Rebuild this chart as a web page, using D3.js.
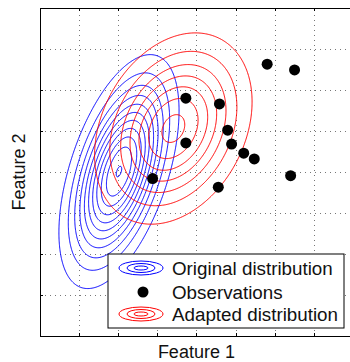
<!DOCTYPE html>
<html>
<head>
<meta charset="utf-8">
<title>Domain adaptation</title>
<script src="https://d3js.org/d3.v7.min.js"></script>
<style>
  body { margin: 0; background: #fff; }
  svg { display: block; font-family: "Liberation Sans", Arial, sans-serif; }
  .grid line { stroke: #777; stroke-dasharray: 1,4; shape-rendering: crispEdges; }
  .grid path { display: none; }
  .axis path, .axis line { stroke: #000; shape-rendering: crispEdges; }
</style>
</head>
<body>
<svg width="350" height="362"></svg>
<script>
// observations
var obsX = [5.81, 6.51, 3.73, 4.59, 4.80, 3.73, 4.90, 5.21, 5.48, 6.41, 2.88, 4.56];
var obsY = [6.63, 6.49, 5.80, 5.66, 5.02, 4.71, 4.68, 4.46, 4.32, 3.91, 3.84, 3.63];

// original distribution (mean, std devs, correlation)
var origMean = [2.02, 4.01];
var origSd = [0.70, 1.30];
var origRho = 0.52;
// contour levels as fraction of the peak density
var origLevels = [0.09, 0.18, 0.27, 0.36, 0.45, 0.54, 0.63, 0.72, 0.81, 0.90, 0.995];

// adapted distribution
var adaptMean = [3.41, 5.06];
var adaptSd = [1.01, 1.17];
var adaptRho = 0.28;
var adaptLevels = [0.137, 0.274, 0.411, 0.548, 0.685, 0.822, 0.959];

var legendLabels = ['Original distribution', 'Observations', 'Adapted distribution'];

const svg = d3.select('svg');
const margin = {left: 40, top: 8};
const width = 312.8;
const height = 328;

var chart = svg.append('g')
  .attr('transform', `translate(${margin.left},${margin.top})`);

var xScale = d3.scaleLinear().domain([0, 8]).range([0, width]);
var yScale = d3.scaleLinear().domain([0, 8]).range([height, 0]);

// dotted grid
chart.append('g').attr('class', 'grid')
  .attr('transform', `translate(0,${height})`)
  .call(d3.axisBottom(xScale).ticks(8).tickSize(-height).tickFormat(''));
chart.append('g').attr('class', 'grid')
  .call(d3.axisLeft(yScale).ticks(8).tickSize(-width).tickFormat(''));

// gaussian density on a grid, relative to its peak
var n = 400, step = 8 / n;
function densityGrid(mean, sd, rho) {
  var vals = new Float64Array(n * n);
  for (var j = 0; j < n; j++) {
    var gy = 8 - (j + 0.5) * step;
    for (var i = 0; i < n; i++) {
      var gx = (i + 0.5) * step;
      var dx = (gx - mean[0]) / sd[0], dy = (gy - mean[1]) / sd[1];
      var q = (dx * dx - 2 * rho * dx * dy + dy * dy) / (1 - rho * rho);
      vals[j * n + i] = Math.exp(-q / 2);
    }
  }
  return vals;
}

var toPixels = d3.geoPath(d3.geoTransform({
  point: function(px, py) {
    this.stream.point(xScale(px * step), yScale(8 - py * step));
  }
}));

function drawContours(mean, sd, rho, levels, color) {
  var c = d3.contours().size([n, n]).thresholds(levels)(densityGrid(mean, sd, rho));
  chart.append('g').selectAll('path')
    .data(c)
    .enter().append('path')
    .attr('d', toPixels)
    .attr('fill', 'none')
    .attr('stroke', color)
    .attr('stroke-width', 1);
}

drawContours(origMean, origSd, origRho, origLevels, '#0000ff');
drawContours(adaptMean, adaptSd, adaptRho, adaptLevels, '#ff0000');

chart.append('g').selectAll('circle')
  .data(obsX)
  .enter().append('circle')
  .attr('cx', (d) => xScale(d))
  .attr('cy', (d, i) => yScale(obsY[i]))
  .attr('r', 5.5)
  .attr('fill', '#000');

// box with inward ticks
chart.append('g').attr('class', 'axis')
  .attr('transform', `translate(0,${height})`)
  .call(d3.axisBottom(xScale).ticks(8).tickSize(-3).tickSizeOuter(0).tickFormat(''));
chart.append('g').attr('class', 'axis')
  .call(d3.axisTop(xScale).ticks(8).tickSize(-3).tickSizeOuter(0).tickFormat(''));
chart.append('g').attr('class', 'axis')
  .call(d3.axisLeft(yScale).ticks(8).tickSize(-3).tickSizeOuter(0).tickFormat(''));
chart.append('g').attr('class', 'axis')
  .attr('transform', `translate(${width},0)`)
  .call(d3.axisRight(yScale).ticks(8).tickSize(-3).tickSizeOuter(0).tickFormat(''));

svg.append('text')
  .attr('x', margin.left + width / 2)
  .attr('y', 358)
  .attr('text-anchor', 'middle')
  .attr('font-size', 18)
  .attr('fill', '#111')
  .text('Feature 1');

svg.append('text')
  .attr('transform', `translate(25,${margin.top + height / 2}) rotate(-90)`)
  .attr('text-anchor', 'middle')
  .attr('font-size', 18)
  .attr('fill', '#111')
  .text('Feature 2');

// legend
var legend = svg.append('g').attr('transform', 'translate(108,254)');
legend.append('rect')
  .attr('width', 236).attr('height', 74)
  .attr('fill', '#fff').attr('stroke', '#000').attr('stroke-width', 1);

var rowY = [14, 38, 60];
var iconRx = [22, 14, 7], iconRy = [7, 4.5, 2];
[0, 2].forEach(function(r) {
  legend.append('g').selectAll('ellipse')
    .data(iconRx)
    .enter().append('ellipse')
    .attr('cx', 33).attr('cy', rowY[r])
    .attr('rx', (d) => d).attr('ry', (d, i) => iconRy[i])
    .attr('fill', 'none')
    .attr('stroke', r === 0 ? '#0000ff' : '#ff0000');
});
legend.append('circle')
  .attr('cx', 35).attr('cy', rowY[1]).attr('r', 5.5).attr('fill', '#000');

legend.selectAll('text.lbl')
  .data(legendLabels)
  .enter().append('text')
  .attr('class', 'lbl')
  .attr('x', 64)
  .attr('y', (d, i) => rowY[i] + 7)
  .attr('font-size', 18.8)
  .attr('fill', '#111')
  .text((d) => d);
</script>
</body>
</html>
